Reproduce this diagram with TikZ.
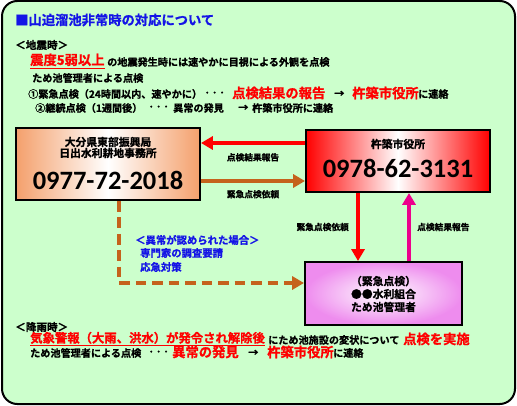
\documentclass[tikz,border=0pt]{standalone}
\usepackage{fontspec}
\setmainfont{Noto Sans CJK JP}[BoldFont={Noto Sans CJK JP Bold},BoldFeatures={FakeBold=1}]
\newfontfamily\telfont{Carlito}
\usetikzlibrary{arrows.meta,calc,positioning}

\definecolor{panelgreen}{RGB}{204,255,204}
\definecolor{noteblue}{RGB}{20,20,230}
\definecolor{boxorange}{RGB}{244,160,108}
\definecolor{boxpink}{RGB}{238,140,238}
\definecolor{linebrown}{RGB}{197,98,28}

\newcommand\dotrow{･\hspace{2pt}･\hspace{2pt}･}

\begin{document}
\begin{tikzpicture}[x=0.85pt,y=-0.85pt,
  every node/.style={inner sep=0pt,font=\bfseries},
  head/.style={anchor=west,font=\bfseries\fontsize{9}{10}\selectfont},
  line/.style={anchor=west,font=\bfseries\fontsize{8.6}{10}\selectfont},
  hot/.style={anchor=west,text=red,font=\bfseries\fontsize{11.3}{12}\selectfont},
  note/.style={anchor=west,text=noteblue,font=\bfseries\fontsize{8.8}{10}\selectfont},
  tag/.style={text=black,font=\bfseries\fontsize{7.4}{9}\selectfont},
  office/.style={align=center,font=\bfseries\fontsize{9.2}{9.4}\selectfont},
  tel/.style={font=\telfont\bfseries\fontsize{22.5}{24}\selectfont},
  telbox/.style={draw,line width=1.7pt},
  flow/.style={line width=3.4pt,-{Triangle[length=10pt,width=11pt]}}]

\useasboundingbox (0,0) rectangle (517,406);
\draw[fill=panelgreen,line width=1.7pt,rounded corners=13pt] (2,1) rectangle (515,404);

\node[anchor=west,text=noteblue,font=\bfseries\fontsize{11.3}{12}\selectfont] (title) at (15,20) {■山迫溜池非常時の対応について};

\node[head] (quake) at (15,45) {＜地震時＞};
\node[hot] (q1a) at (30,61) {\underline{震度5弱以上}};
\node[line] (q1b) at (107,62) {の地震発生時には速やかに目視による外観を点検};
\node[line] (q2) at (32,78) {ため池管理者による点検};
\node[line] (q3a) at (28,94) {①緊急点検（24時間以内、速やかに）};
\node[line] (q3b) at (204.5,94) {\dotrow};
\node[hot] (q3c) at (232,93) {点検結果の報告};
\node[line] (q3d) at (334,94) {→};
\node[hot] (q3e) at (352,93) {杵築市役所};
\node[line] (q3f) at (418,94) {に連絡};
\node[line] (q4a) at (35,108) {②継続点検（1週間後）};
\node[line] (q4b) at (148.5,108) {\dotrow};
\node[line] (q4c) at (173,108) {異常の発見};
\node[line] (q4d) at (238,108) {→};
\node[line] (q4e) at (252,108) {杵築市役所に連絡};

\node[telbox,left color=boxorange,right color=boxorange,middle color=white,minimum width=156.4pt,minimum height=61.2pt] (lbox) at (108,164) {};
\node[office] (lname) at (108,147.5) {大分県東部振興局\\日出水利耕地事務所};
\node[tel] (ltel) at (108,180) {0977-72-2018};

\node[telbox,left color=red,right color=red,middle color=white,minimum width=156.4pt,minimum height=52.7pt] (rbox) at (398,161) {};
\node[office] (rname) at (398,144) {杵築市役所};
\node[tel] (rtel) at (398,168) {0978-62-3131};

\node[telbox,inner color=white,outer color=boxpink,minimum width=133.5pt,minimum height=53.6pt] (mbox) at (383.5,293.5) {};
\node[office,font=\bfseries\fontsize{9.2}{11}\selectfont] (mname) at (383.5,294) {（緊急点検）\\●●水利組合\\ため池管理者};

\coordinate (r1) at ($(rbox.west)+(0,-18)$);
\coordinate (b1) at ($(lbox.east)+(0,17)$);
\coordinate (d1) at ($(rbox.south)+(-40,0)$);
\coordinate (u1) at ($(mbox.north)+(25.5,0)$);
\coordinate (s1) at ($(lbox.south)+(11,0)$);
\coordinate (w1) at ($(mbox.west)+(0,-10.5)$);

\draw[flow,red] (r1) -- (r1 -| lbox.east) node[tag,midway,below=7pt] {点検結果報告};
\draw[flow,linebrown] (b1) -- (b1 -| rbox.west) node[tag,midway,below=6pt] {緊急点検依頼};
\draw[flow,red] (d1) -- (d1 |- mbox.north);
\draw[flow,magenta] (u1) -- (u1 |- rbox.south);
\draw[flow,linebrown,dash pattern=on 9pt off 5pt] (s1) |- (w1);

\node[tag,anchor=east] (dlabel) at (349,227) {緊急点検依頼};
\node[tag,anchor=west] (ulabel) at (417,227) {点検結果報告};

\node[note] (n1) at (135,240) {＜異常が認められた場合＞};
\node[note] (n2) at (140,253) {専門家の調査要請};
\node[note] (n3) at (140,267) {応急対策};

\node[head] (rain) at (15,327) {＜降雨時＞};
\node[hot,font=\bfseries\fontsize{10.5}{12}\selectfont] (p1a) at (30,339) {\underline{気象警報（大雨、洪水）が発令され解除後}};
\node[line] (p1b) at (268,340) {にため池施設の変状について};
\node[hot] (p1c) at (403,339) {点検を実施};
\node[line] (p2a) at (30,353) {ため池管理者による点検};
\node[line] (p2b) at (148.5,353) {\dotrow};
\node[hot] (p2c) at (172,352) {異常の発見};
\node[line] (p2d) at (248,353) {→};
\node[hot] (p2e) at (267,352) {杵築市役所};
\node[line] (p2f) at (333,353) {に連絡};
\end{tikzpicture}
\end{document}
